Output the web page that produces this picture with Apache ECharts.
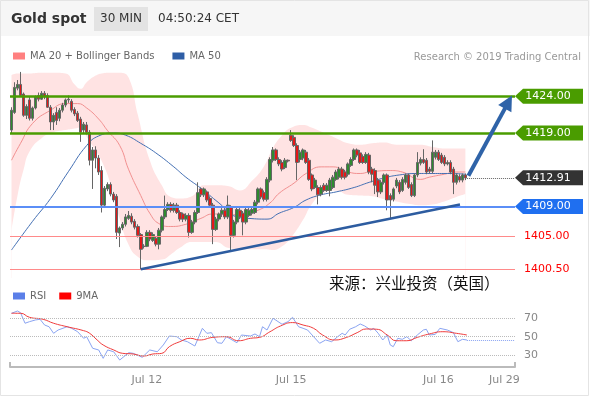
<!DOCTYPE html>
<html>
<head>
<meta charset="utf-8">
<script src="https://cdn.jsdelivr.net/npm/echarts/dist/echarts.min.js"></script>
<style>
  html, body { margin: 0; padding: 0; background: #fff; }
  #chart { width: 590px; height: 397px; }
</style>
</head>
<body>
<div id="chart"></div>
<script>
// 30 min candles: [open, close, low, high]
const candles = [
  [1419.4,1422.1,1419.0,1422.5],[1421.8,1425.2,1421.6,1425.9],[1425.1,1425.6,1424.8,1426.2],[1425.6,1424.1,1423.9,1427.3],
  [1424.3,1421.4,1421.2,1424.5],[1421.4,1422.6,1420.9,1422.9],[1423.5,1421.0,1420.7,1424.0],[1421.0,1422.4,1420.7,1422.6],
  [1422.4,1423.9,1422.2,1424.1],[1424.1,1423.6,1423.3,1424.5],[1423.6,1424.4,1423.5,1424.7],[1424.4,1423.9,1423.6,1424.7],
  [1424.1,1422.5,1422.4,1424.4],[1422.5,1420.5,1419.4,1422.8],[1420.5,1421.4,1419.4,1421.7],[1421.8,1420.7,1420.1,1422.5],
  [1421.0,1422.1,1420.6,1422.4],[1422.1,1422.8,1421.8,1423.1],[1422.8,1423.5,1422.5,1423.7],[1423.5,1423.6,1423.1,1424.1],
  [1423.3,1422.1,1421.8,1423.6],[1422.2,1421.6,1421.3,1422.5],[1421.7,1420.7,1420.5,1422.0],[1420.9,1419.1,1417.8,1421.2],
  [1419.4,1420.2,1419.0,1420.5],[1420.1,1419.1,1418.8,1420.5],[1419.1,1415.3,1414.6,1419.4],[1415.3,1416.7,1411.4,1417.1],
  [1416.7,1415.6,1414.2,1417.2],[1415.6,1413.7,1413.3,1416.0],[1413.9,1409.2,1408.2,1414.5],[1409.2,1411.5,1408.9,1411.8],
  [1411.4,1412.0,1411.1,1412.3],[1412.0,1410.7,1410.4,1412.3],[1410.7,1409.9,1409.6,1411.0],[1410.4,1405.5,1404.6,1410.7],
  [1405.4,1406.1,1403.5,1406.3],[1406.1,1406.6,1405.8,1406.9],[1406.6,1407.6,1406.3,1408.0],[1407.4,1407.8,1407.2,1408.4],
  [1407.7,1406.9,1406.6,1408.1],[1407.0,1406.2,1405.9,1407.3],[1406.3,1405.1,1404.8,1406.6],[1405.2,1403.2,1400.5,1405.4],
  [1403.6,1403.6,1403.3,1403.9],[1403.6,1405.5,1403.5,1405.8],[1405.5,1404.6,1404.3,1405.8],[1404.4,1405.2,1404.2,1405.5],
  [1404.7,1403.9,1403.6,1405.0],[1403.9,1405.8,1403.2,1406.1],[1405.8,1407.6,1405.5,1407.8],[1407.6,1408.6,1407.3,1410.5],
  [1408.6,1409.3,1408.4,1409.6],[1409.3,1408.5,1408.2,1409.6],[1408.5,1409.2,1408.2,1409.5],[1409.2,1408.2,1408.0,1409.5],
  [1408.2,1407.3,1407.0,1408.5],[1408.0,1407.3,1406.9,1408.2],[1407.3,1407.8,1407.0,1408.1],[1407.8,1405.5,1404.8,1408.1],
  [1405.5,1406.9,1405.3,1407.2],[1406.9,1408.2,1406.6,1408.5],[1408.2,1410.9,1408.0,1412.3],[1411.4,1410.6,1410.3,1411.6],
  [1410.6,1411.4,1410.3,1411.6],[1411.0,1409.9,1409.6,1411.2],[1410.1,1409.2,1408.9,1410.4],[1409.2,1405.9,1403.9,1409.5],
  [1405.9,1407.3,1405.7,1407.6],[1407.3,1408.0,1407.0,1408.2],[1408.0,1408.5,1407.6,1408.8],[1408.5,1407.6,1407.3,1408.8],
  [1407.6,1409.2,1407.3,1410.5],[1408.9,1405.1,1403.1,1409.2],[1405.1,1406.9,1404.8,1407.2],[1406.9,1408.6,1406.6,1408.9],
  [1408.5,1407.6,1407.3,1408.8],[1408.1,1406.9,1405.1,1408.4],[1406.9,1408.6,1406.6,1408.9],[1407.8,1408.5,1407.6,1408.8],
  [1408.1,1408.6,1407.8,1408.9],[1408.2,1409.6,1408.0,1409.9],[1409.6,1411.4,1409.3,1411.6],[1411.4,1410.3,1410.0,1411.6],
  [1410.9,1410.0,1409.7,1411.2],[1410.0,1412.7,1409.7,1413.0],[1412.6,1415.4,1412.3,1415.7],[1415.3,1416.7,1415.0,1417.1],
  [1416.7,1415.4,1415.2,1416.9],[1415.4,1414.8,1414.5,1415.7],[1415.0,1414.1,1413.8,1415.3],[1414.3,1415.3,1414.1,1415.6],
  [1415.3,1415.2,1415.0,1415.4],[1418.7,1418.0,1417.8,1419.4],[1418.4,1417.3,1417.1,1418.7],[1417.3,1415.0,1412.6,1417.6],
  [1415.4,1416.4,1415.0,1416.7],[1415.6,1416.7,1415.3,1416.9],[1416.4,1415.0,1414.8,1416.7],[1415.3,1412.7,1412.5,1415.6],
  [1413.3,1411.4,1411.1,1413.5],[1411.6,1412.6,1411.4,1412.9],[1411.6,1410.6,1409.3,1411.9],[1410.7,1411.6,1410.4,1411.9],
  [1411.9,1411.2,1411.0,1412.2],[1411.2,1411.9,1411.0,1412.2],[1411.2,1412.6,1410.4,1412.9],[1411.6,1413.0,1411.4,1413.3],
  [1412.7,1413.7,1412.5,1414.0],[1413.0,1414.1,1412.7,1414.4],[1414.1,1413.0,1412.7,1414.4],[1413.7,1413.0,1412.7,1414.0],
  [1413.4,1414.8,1413.1,1415.0],[1414.6,1415.4,1414.4,1415.7],[1415.4,1416.7,1415.2,1416.9],[1416.7,1416.0,1415.7,1416.9],
  [1416.3,1415.0,1414.8,1416.7],[1415.8,1415.0,1414.8,1416.1],[1415.0,1416.1,1414.8,1416.4],[1416.0,1413.7,1413.4,1416.3],
  [1414.1,1413.4,1412.3,1414.4],[1413.9,1411.9,1410.7,1414.2],[1412.6,1411.0,1410.3,1412.9],[1411.0,1412.3,1410.7,1412.6],
  [1412.3,1413.3,1412.0,1413.5],[1413.3,1409.9,1408.5,1413.5],[1410.5,1409.9,1407.4,1410.8],[1410.0,1411.4,1409.7,1411.6],
  [1411.8,1412.6,1411.5,1412.9],[1412.3,1411.0,1410.7,1412.6],[1411.2,1412.7,1411.0,1413.0],[1412.3,1413.3,1412.0,1413.5],
  [1413.3,1411.6,1411.4,1413.5],[1412.0,1410.5,1410.3,1412.3],[1410.5,1413.3,1410.3,1413.5],[1413.3,1415.0,1413.0,1416.4],
  [1414.9,1415.4,1414.6,1415.7],[1415.4,1415.0,1414.8,1416.8],[1415.3,1413.7,1413.4,1415.6],[1414.1,1413.8,1413.5,1414.4],
  [1413.8,1416.4,1413.5,1418.0],[1415.7,1416.4,1415.4,1416.7],[1416.4,1415.4,1415.2,1416.7],[1416.0,1415.0,1414.8,1416.3],
  [1415.7,1414.8,1414.5,1416.0],[1414.8,1415.0,1414.6,1415.3],[1415.0,1413.7,1413.4,1415.3],[1414.1,1412.3,1410.7,1414.4],
  [1412.3,1413.3,1412.0,1413.5],[1413.1,1412.6,1412.3,1413.4],[1412.6,1413.3,1412.3,1413.5],[1413.3,1412.9,1412.6,1413.5]
];

// moving averages as [slot, price]
const ma20 = [[0,1415.3],[3,1417.6],[7,1420.3],[13,1422.1],[18,1423.0],[22,1423.0],[25,1422.4],[29,1420.9],[32,1419.3],
  [36,1417.3],[39,1414.0],[43,1410.5],[46,1408.1],[49,1406.7],[53,1406.3],[58,1406.6],[63,1407.4],[67,1408.0],[73,1407.9],
  [78,1408.1],[82,1408.5],[86,1409.5],[89,1410.8],[94,1412.2],[98,1413.5],[103,1414.4],[107,1414.4],[112,1413.7],[116,1413.5],
  [119,1413.7],[126,1413.9],[130,1413.7],[136,1412.7],[139,1413.0],[144,1413.4],[148,1413.7],[151,1413.7]];
const ma50 = [[0,1403.1],[7,1407.0],[13,1410.1],[19,1413.8],[25,1417.3],[29,1418.6],[34,1419.0],[38,1418.7],[43,1417.6],
  [48,1416.3],[54,1414.4],[58,1413.0],[63,1411.5],[69,1409.5],[75,1407.6],[79,1407.4],[85,1407.3],[89,1408.1],[94,1408.9],
  [98,1409.9],[103,1410.6],[108,1411.0],[114,1411.6],[119,1412.3],[124,1412.9],[129,1413.3],[135,1413.5],[140,1413.5],
  [146,1413.5],[151,1413.4]];

// Bollinger bands
const bandSlots = [0,2,4,6,10,14,18,21,23,25,28,30,33,36,39,42,46,50,53,56,60,64,68,72,76,80,84,87,90,93,97,100,104,108,112,116,120,124,128,132,136,140,144,148,151];
const bandUpper = [1426.9,1427.1,1427.1,1427.1,1427.2,1427.2,1427.1,1425.6,1425.0,1425.9,1426.8,1427.1,1427.2,1427.2,1426.5,1421.5,1415.3,1411.9,1410.3,1410.1,
  1410.4,1411.9,1411.9,1411.8,1411.2,1412.5,1414.5,1417.0,1418.7,1419.7,1420.1,1419.7,1419.0,1418.3,1417.6,1417.4,1417.6,1417.7,1417.4,1417.4,
  1417.4,1417.1,1416.9,1416.9,1416.9];
const bandLower = [1405.8,1410.5,1414.0,1416.5,1418.3,1419.1,1419.4,1419.6,1419.8,1418.5,1416.6,1415.2,1412.0,1407.3,1403.8,1402.2,1401.7,1401.8,1402.5,1403.4,
  1404.2,1404.2,1404.2,1403.4,1403.2,1403.2,1403.2,1403.1,1403.6,1404.8,1407.2,1409.4,1410.9,1411.2,1410.6,1410.5,1410.4,1410.0,1409.7,1409.4,
  1409.2,1409.3,1409.7,1410.3,1410.7];

// RSI and its 9 period average as [slot, value]
const rsi = [[0,74.9],[2,77.3],[3,75.5],[4.5,64.3],[6,66],[8,67.8],[9.5,68.5],[11,62.4],[12.5,60.6],[14,53.6],[15.5,57.1],[18.5,60.6],
  [20,58.9],[22,55.3],[24,48.3],[25,50],[27,37.7],[29,35.9],[30.5,27],[32,35.9],[34,34],[36,25.2],[39,33],[40.5,32.3],[43.5,28.1],
  [46,35.9],[48.5,34],[50.5,41.2],[52.5,50.7],[55,50],[56.5,46.5],[58.5,44.7],[61,40.1],[63.5,58.9],[65,53.6],[66.5,54.3],[68.5,43.6],
  [70,43],[71.5,50],[75,43.6],[76.5,51.8],[79.5,50.7],[81,52.9],[82.5,50],[83.5,60.6],[85,57.1],[87,69.6],[90,63.2],[92,66],[93.5,70.6],
  [95.5,60.6],[97,58.9],[98.5,57.1],[100.5,50],[102.5,43],[104.5,46.5],[106.5,44.7],[108.5,50],[110,53.6],[111,51.8],[112.5,57.9],
  [114.5,60.6],[116,63.5],[117.5,61.4],[119.5,57.1],[120.5,58.9],[122,53.6],[123.5,46.5],[125,51.8],[126,41.2],[127,39.4],[128.5,48.3],
  [130,47.2],[131.5,50],[133,45.7],[135,51.8],[137,57.1],[138,57.9],[139,51.8],[141,52.5],[142.5,58.9],[145,57.1],[147,54.3],[148.5,44.7],
  [150,47.2],[151.5,46.5]];
const rsiMa = [[0,74.9],[3,74.9],[6,70.6],[10.5,68.5],[14,64.3],[18.5,60.6],[24,56.4],[26,53.6],[28.5,46.5],[30.5,41.2],[34,35.9],
  [37,32.3],[40.5,31.6],[44,29.5],[47,31.6],[50,32.3],[52.5,39.4],[56,44.7],[59.5,48.3],[62.5,46.5],[67,49.3],[71.5,50],[75.5,45.7],
  [79.5,48.3],[82.5,49.3],[86,55.3],[89.5,61.4],[93.5,65],[97,62.4],[100.5,58.9],[103.5,51.8],[107.5,46.5],[111.5,49.3],[115,54.3],
  [118,58.2],[121.5,57.9],[125,51.8],[128,45.7],[131.5,45.7],[135,49.3],[139,52.9],[143.5,55.3],[148,53.6],[151.5,51.8]];

// axis text
const slotCount = 168;
const dayLabels = ['Jul 12', 'Jul 15', 'Jul 16', 'Jul 29'];
const daySlots = [45, 93, 142, 164];
const rsiLevels = [30, 50, 70];

// drawn levels
const resistLevels = [1424, 1419];
const supportLevel = 1409;
const minorLevels = [1405, 1400.5];
const lastPrice = 1412.91;
const lastRsi = 46.5;
const trendFrom = [43, 1400.5], trendTo = [149.2, 1409.3];
const arrowFrom = [152, 1413.2], arrowTo = [165.3, 1423.2];

const cats = [];
for (let i = 0; i < slotCount; i++) {
  const k = daySlots.indexOf(i);
  cats.push(k >= 0 ? dayLabels[k] : '');
}

const green = '#4a9c00';
const tagPath = 'path://M0,8L8,0L68,0L68,16L8,16Z';
const tag = (v, color) => ({
  coord: [slotCount - 0.5, v], value: v.toFixed(2), itemStyle: { color: color }
});

const chart = echarts.init(document.getElementById('chart'));
const option = {
  animation: false,
  backgroundColor: '#fff',
  textStyle: { fontFamily: 'DejaVu Sans' },
  graphic: [
    { type: 'rect', shape: { x: 0, y: 0, width: 590, height: 36 }, style: { fill: '#f6f6f6' } },
    { type: 'rect', shape: { x: 0.5, y: 0.5, width: 588, height: 395 }, style: { fill: 'none', stroke: '#e4e4e4' } },
    { type: 'text', x: 11, y: 19, style: { text: 'Gold spot', font: 'bold 14px DejaVu Sans', fill: '#333', verticalAlign: 'middle' } },
    { type: 'rect', shape: { x: 94, y: 7, width: 54, height: 24 }, style: { fill: '#e3e3e3' } },
    { type: 'text', x: 121, y: 19, style: { text: '30 MIN', font: '12px DejaVu Sans', fill: '#333', align: 'center', verticalAlign: 'middle' } },
    { type: 'text', x: 158, y: 19, style: { text: '04:50:24 CET', font: '12px DejaVu Sans', fill: '#333', verticalAlign: 'middle' } },
    { type: 'text', x: 581, y: 57, style: { text: 'Research © 2019 Trading Central', font: '10px DejaVu Sans', fill: '#999', align: 'right', verticalAlign: 'middle' } },
    { type: 'text', x: 329, y: 283, z: 10, style: { text: '来源：兴业投资（英国）', font: '15.5px "Noto Sans CJK SC"', fill: '#111', verticalAlign: 'middle' } }
  ],
  legend: [
    { left: 13, top: 51, padding: 0, itemWidth: 12, itemHeight: 7, itemGap: 18, icon: 'rect',
      textStyle: { fontSize: 10, color: '#666' }, data: ['MA 20 + Bollinger Bands', 'MA 50'] },
    { left: 13, top: 291, padding: 0, itemWidth: 12, itemHeight: 7, itemGap: 13, icon: 'rect',
      textStyle: { fontSize: 10, color: '#666' }, data: ['RSI', '9MA'] }
  ],
  grid: [
    { left: 10, right: 75, top: 62, height: 216 },
    { left: 10, right: 75, top: 300, height: 67 }
  ],
  xAxis: [
    { type: 'category', gridIndex: 0, data: cats, show: false },
    { type: 'value', gridIndex: 0, min: -0.5, max: slotCount - 0.5, show: false },
    { type: 'category', gridIndex: 1, data: cats,
      axisLine: { lineStyle: { color: '#bbb', width: 2 } },
      axisTick: { show: true, inside: true, length: 5, interval: (i) => i === 0, lineStyle: { color: '#bbb', width: 2 } },
      axisLabel: { interval: 0, color: '#888', fontSize: 11, margin: 8 },
      splitLine: { show: false } },
    { type: 'value', gridIndex: 1, min: -0.5, max: slotCount - 0.5, show: false }
  ],
  yAxis: [
    { type: 'value', gridIndex: 0, min: 1399.3, max: 1428.65, show: false },
    { type: 'value', gridIndex: 1, min: 17.8, max: 89, show: false }
  ],
  series: [
    // band: pink area under the upper band, covered in white under the lower band
    { type: 'line', name: 'bbHigh', z: 1, xAxisIndex: 1, yAxisIndex: 0, smooth: true, symbol: 'none', silent: true,
      lineStyle: { width: 0 }, areaStyle: { color: '#ffe3e3', opacity: 1, origin: 'start' },
      data: bandSlots.map((s, k) => [s, bandUpper[k]]) },
    { type: 'line', name: 'bbLow', z: 1, xAxisIndex: 1, yAxisIndex: 0, smooth: true, symbol: 'none', silent: true,
      lineStyle: { width: 0 }, areaStyle: { color: '#ffffff', opacity: 1, origin: 'start' },
      data: bandSlots.map((s, k) => [s, bandLower[k]]) },
    { type: 'line', name: 'MA 20 + Bollinger Bands', z: 3, xAxisIndex: 1, yAxisIndex: 0, smooth: true, symbol: 'none',
      itemStyle: { color: '#ff8080' }, lineStyle: { color: '#f29090', width: 1 }, data: ma20 },
    { type: 'line', name: 'MA 50', z: 3, xAxisIndex: 1, yAxisIndex: 0, smooth: true, symbol: 'none',
      itemStyle: { color: '#2e5ea6' }, lineStyle: { color: '#4470b4', width: 1 }, data: ma50 },
    { type: 'candlestick', name: 'Gold', z: 4, xAxisIndex: 0, yAxisIndex: 0, barWidth: 3, data: candles,
      itemStyle: { color: '#2f8a2f', color0: '#e31818', borderColor: '#666', borderColor0: '#666', borderWidth: 1 },
      markLine: {
        symbol: 'none', silent: true,
        data: [
          ...resistLevels.map(v => ({ yAxis: v, lineStyle: { color: green, width: 2.5, type: 'solid' }, label: { show: false } })),
          { yAxis: supportLevel, lineStyle: { color: '#5b8ef7', width: 2, type: 'solid' }, label: { show: false } },
          ...minorLevels.map(v => ({ yAxis: v, lineStyle: { color: '#ff8a8a', width: 1, type: 'solid' },
            label: { show: true, position: 'end', distance: 9, color: '#f00', fontSize: 11, formatter: v.toFixed(2) } }))
        ]
      } },
    { type: 'line', name: 'marks', z: 5, xAxisIndex: 1, yAxisIndex: 0, data: [], symbol: 'none',
      markLine: {
        silent: true, symbol: 'none',
        data: [
          [{ coord: trendFrom, lineStyle: { color: '#2d5ca0', width: 2.5, type: 'solid' } }, { coord: trendTo }],
          [{ coord: [151.5, lastPrice], lineStyle: { color: '#666', width: 1, type: 'dotted' } }, { coord: [slotCount - 0.5, lastPrice] }],
          [{ coord: arrowFrom, symbol: 'none', lineStyle: { color: '#2f63a8', width: 4, type: 'solid' } },
           { coord: arrowTo, symbol: 'triangle', symbolSize: [15, 15] }]
        ],
        label: { show: false }
      },
      markPoint: {
        silent: true, symbol: tagPath, symbolSize: [68, 15], symbolOffset: [34, 0],
        label: { show: true, position: 'inside', color: '#fff', fontSize: 11, offset: [-1, 0], formatter: p => p.value },
        data: [tag(1424, green), tag(1419, green), tag(lastPrice, '#333'), tag(supportLevel, '#1f6ff0')]
      } },
    { type: 'line', name: 'RSI', xAxisIndex: 3, yAxisIndex: 1, symbol: 'none', data: rsi,
      itemStyle: { color: '#5b7fe8' }, lineStyle: { color: '#8aa4f2', width: 1 },
      markLine: {
        silent: true, symbol: 'none',
        data: [
          ...rsiLevels.map(v => ({ yAxis: v, lineStyle: { color: '#bbb', width: 1, type: 'dotted' },
            label: { show: true, position: 'end', distance: 9, color: '#888', fontSize: 11, formatter: String(v) } })),
          [{ coord: [151.5, lastRsi], lineStyle: { color: '#8aa4f2', width: 1, type: 'dotted' }, label: { show: false } },
           { coord: [slotCount - 0.5, lastRsi] }]
        ]
      } },
    { type: 'line', name: '9MA', xAxisIndex: 3, yAxisIndex: 1, symbol: 'none', smooth: true, data: rsiMa,
      itemStyle: { color: '#ff0000' }, lineStyle: { color: '#f03c3c', width: 1 } }
  ]
};
chart.setOption(option);
</script>
</body>
</html>
